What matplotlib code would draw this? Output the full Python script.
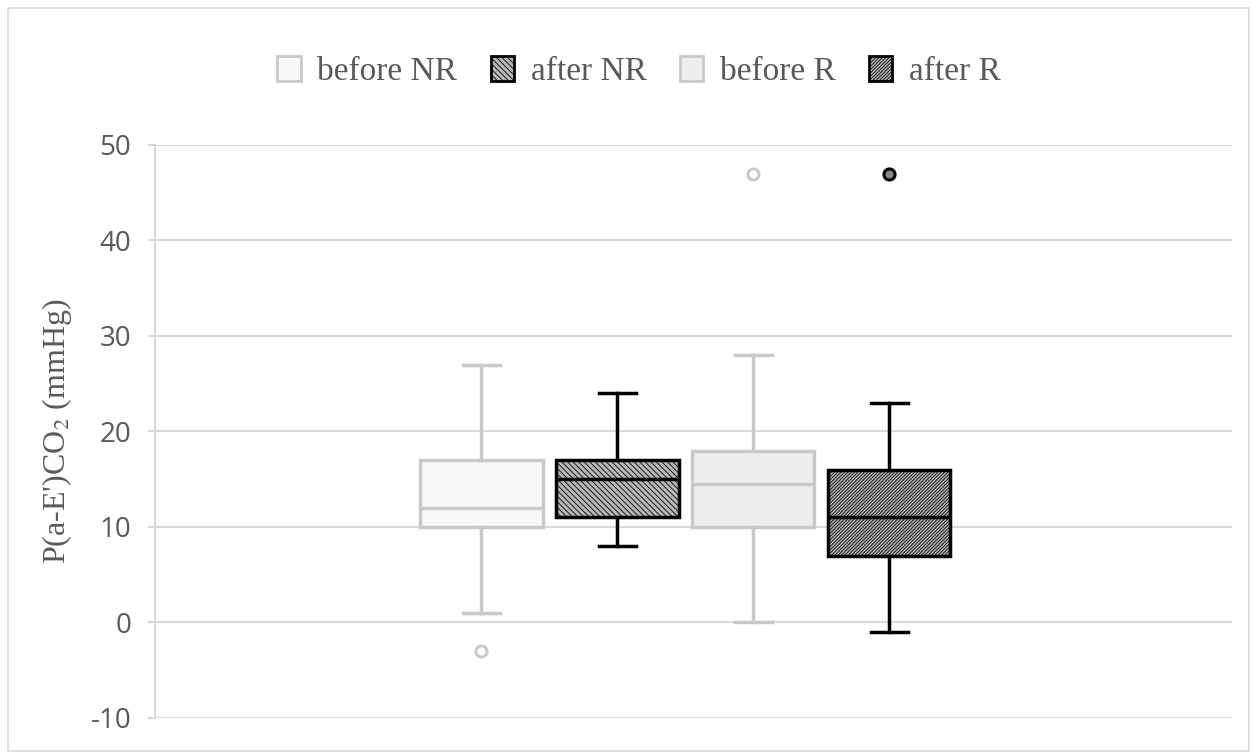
import matplotlib.pyplot as plt
from matplotlib.patches import Patch, Rectangle

plt.rcParams['hatch.linewidth'] = 0.6
plt.rcParams['mathtext.fontset'] = 'stix'
plt.rcParams['axes.unicode_minus'] = False

# box statistics
labels = ['before NR', 'after NR', 'before R', 'after R']
whislo = [1, 8, 0, -1]
q1 = [10, 11, 10, 7]
med = [12, 15, 14.5, 11]
q3 = [17, 17, 18, 16]
whishi = [27, 24, 28, 23]
fliers = [[-3], [], [47], [47]]

faces = ['#f8f8f8', '#b8b8b8', '#eeeeee', '#b8b8b8']
edges = ['#c9c9c9', '#000000', '#c9c9c9', '#000000']
hatches = [None, '\\\\\\\\\\\\', None, '//////////']

stats = []
for i in range(len(labels)):
    stats.append({'label': labels[i], 'whislo': whislo[i], 'q1': q1[i], 'med': med[i],
                  'q3': q3[i], 'whishi': whishi[i], 'fliers': fliers[i]})

fig = plt.figure(figsize=(12.53, 7.53), dpi=100)
ax = fig.add_axes([0.1237, 0.0465, 0.8595, 0.761])
fig.patches.append(Rectangle((0.006, 0.003), 0.991, 0.986, transform=fig.transFigure,
                             fill=False, edgecolor='#d9d9d9', linewidth=1.2))

pos = [1, 2, 3, 4]
bp = ax.bxp(stats, positions=pos, widths=0.9, capwidths=0.27, patch_artist=True,
            showfliers=True)

for i in range(len(labels)):
    b = bp['boxes'][i]
    b.set_facecolor(faces[i])
    b.set_edgecolor(edges[i])
    b.set_linewidth(2.5)
    if hatches[i]:
        b.set_hatch(hatches[i])
    bp['medians'][i].set_color(edges[i])
    bp['medians'][i].set_linewidth(2.5)
    for w in bp['whiskers'][2 * i:2 * i + 2]:
        w.set_color(edges[i])
        w.set_linewidth(2.5)
    for c in bp['caps'][2 * i:2 * i + 2]:
        c.set_color(edges[i])
        c.set_linewidth(2.5)
    f = bp['fliers'][i]
    f.set_marker('o')
    f.set_markersize(8)
    f.set_markeredgewidth(2.2)
    f.set_markeredgecolor(edges[i])
    f.set_markerfacecolor('white' if edges[i] != '#000000' else '#888888')

ax.set_xlim(-1.40, 6.52)
ax.set_ylim(-10, 50)
ax.set_yticks(range(-10, 51, 10))
ax.set_xticks([])
ax.yaxis.grid(True, color='#d9d9d9', linewidth=1.5)
ax.set_axisbelow(True)
for s in ['top', 'right', 'bottom']:
    ax.spines[s].set_visible(False)
ax.spines['left'].set_color('#d9d9d9')
ax.spines['left'].set_linewidth(1.5)
ax.tick_params(axis='y', length=5, width=1.5, color='#d9d9d9', labelcolor='#595959',
               labelsize=20, pad=12)
for t in ax.get_yticklabels():
    t.set_fontfamily('Open Sans')

ax.set_ylabel("P(a-E')CO$_2$ (mmHg)", fontfamily='Liberation Serif', fontsize=23,
              color='#595959', labelpad=12)

handles = [Patch(facecolor=faces[i], edgecolor=edges[i], hatch=hatches[i], linewidth=2)
           for i in range(len(labels))]
fig.legend(handles, labels, loc='center', bbox_to_anchor=(0.51, 0.905), ncol=4,
           frameon=False, handlelength=0.7, handleheight=0.8, handletextpad=0.5,
           columnspacing=1.0, prop={'family': 'Liberation Serif', 'size': 24},
           labelcolor='#595959')

fig.savefig('out.png', dpi=100)
